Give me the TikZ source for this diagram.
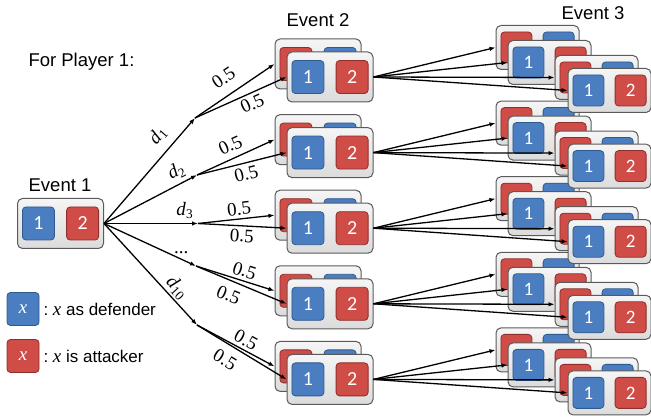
\documentclass[tikz,border=0pt]{standalone}
\usepackage{fontspec}
\setmainfont{Liberation Sans}
\newfontfamily\numfont{Carlito}
\newfontfamily\labfont{Liberation Serif}
\usetikzlibrary{arrows.meta,calc}
\definecolor{sqblue}{HTML}{4A7EC0}
\definecolor{sqblueb}{HTML}{2F5A8E}
\definecolor{sqred}{HTML}{CF4C47}
\definecolor{sqredb}{HTML}{8E2F2B}
\definecolor{boxb}{HTML}{5A5A5A}
\tikzset{
  bigbox/.style={draw=boxb, line width=1pt, rounded corners=5pt, top color=gray!8, bottom color=gray!28, minimum width=86pt, minimum height=50pt, inner sep=0pt},
  smallbox/.style={draw=boxb, line width=1pt, rounded corners=5pt, top color=gray!8, bottom color=gray!28, minimum width=83pt, minimum height=44pt, inner sep=0pt},
  bigsq/.style={minimum width=32pt, minimum height=33pt, inner sep=0pt, rounded corners=3.5pt, line width=0.8pt, font=\numfont\fontsize{20}{20}\selectfont, text=white},
  smallsq/.style={minimum width=31pt, minimum height=31pt, inner sep=0pt, rounded corners=3.5pt, line width=0.8pt, font=\numfont\fontsize{19}{19}\selectfont, text=white},
  bluesq/.style={fill=sqblue, draw=sqblueb},
  redsq/.style={fill=sqred, draw=sqredb},
  arr/.style={line width=1.3pt, -{Latex[length=6pt,width=4.5pt]}},
  title/.style={font=\fontsize{18.5}{18.5}\selectfont},
  lab/.style={font=\labfont\fontsize{19}{19}\selectfont, inner sep=2pt},
  legtext/.style={font=\fontsize{17}{17}\selectfont, anchor=west},
}
\newcommand\dd[1]{\textit{d}\textsubscript{#1}}
\newcommand\xx{{\labfont\itshape\fontsize{19}{19}\selectfont x}}
% #1 size (big/small), #2 name, #3 x, #4 y
\newcommand\mkfront[4]{%
  \node[#1box] (#2) at (#3,#4) {};
  \node[#1sq, bluesq, anchor=west] (#2l) at ([xshift=5pt]#2.west) {1};
  \node[#1sq, redsq, anchor=east] (#2r) at ([xshift=-5pt]#2.east) {2};
}
\newcommand\mkback[4]{%
  \node[#1box] (#2) at (#3,#4) {};
  \node[#1sq, redsq, anchor=west] (#2l) at ([xshift=5pt]#2.west) {};
  \node[#1sq, bluesq, anchor=east] (#2r) at ([xshift=-5pt]#2.east) {};
}
\begin{document}
\begin{tikzpicture}[x=1pt,y=-1pt]
\useasboundingbox (0,0) rectangle (651,419);

% titles
\node[title] (t1) at (60,185) {Event 1};
\node[title] (t2) at (318,20) {Event 2};
\node[title] (t3) at (593,13) {Event 3};
\node[title, anchor=west] (tp) at (25,62) {For Player 1:};

% event 1
\mkfront{big}{e1}{60.5}{223.5}

% event 3 boxes (drawn from bottom group upward)
\foreach \i in {5,4,3,2,1}{
  \pgfmathsetmacro\cy{77+75.6*(\i-1)}
  \mkback{small}{a\i}{537.5}{\cy-29.5}
  \mkfront{small}{b\i}{549.5}{\cy-14.5}
  \mkback{small}{c\i}{596.5}{\cy+0.5}
  \mkfront{small}{d\i}{609.5}{\cy+13.5}
}
% event 2 boxes
\foreach \i in {1,...,5}{
  \pgfmathsetmacro\cy{77+75.6*(\i-1)}
  \mkback{big}{p\i}{318}{\cy-13}
  \mkfront{big}{q\i}{330}{\cy}
}

% branch points
\coordinate (m1) at (195,118);
\coordinate (m2) at (197,175);
\coordinate (m3) at (198,223.5);
\coordinate (m4) at (196,266);
\coordinate (m5) at (197,325);

% event 1 to branch points
\draw[arr] (e1.east) -- node[lab, pos=0.73, sloped, above=6pt] {\dd{1}} (m1);
\draw[arr] (e1.east) -- node[lab, pos=0.84, sloped, above=2pt] {\dd{2}} (m2);
\draw[arr] (e1.east) -- node[lab, pos=0.86, above=2pt] {\dd{3}} (m3);
\draw[arr] (e1.east) -- node[lab, pos=0.84, above=3pt] {...} (m4);
\draw[arr] (e1.east) -- node[lab, pos=0.70, sloped, above=0pt] {\dd{10}} (m5);

% branch points to event 2
\foreach \i/\pu/\du/\pl/\dl in {1/0.48/8/0.58/1, 2/0.5/4/0.52/2, 3/0.55/1/0.5/1, 4/0.58/1/0.42/5, 5/0.57/1/0.4/6}{
  \draw[arr] (m\i) -- node[lab, pos=\pu, sloped, above=\du pt] {0.5} (p\i.west);
  \draw[arr] (m\i) -- node[lab, pos=\pl, sloped, below=\dl pt] {0.5} (q\i.west);
}

% event 2 to event 3
\foreach \i in {1,...,5}{
  \draw[arr] (q\i.east) -- (a\i.west);
  \draw[arr] (q\i.east) -- (b\i.west);
  \draw[arr] (q\i.east) -- (c\i.west);
  \draw[arr] (q\i.east) -- (d\i.west);
}

% legend
\node[bigsq, bluesq] (lb) at (23,309) {\xx};
\node[legtext] (lbt) at (40,309) {:\ \xx\ as defender};
\node[bigsq, redsq] (lr) at (23,356) {\xx};
\node[legtext] (lrt) at (40,356) {:\ \xx\ is attacker};
\end{tikzpicture}
\end{document}
